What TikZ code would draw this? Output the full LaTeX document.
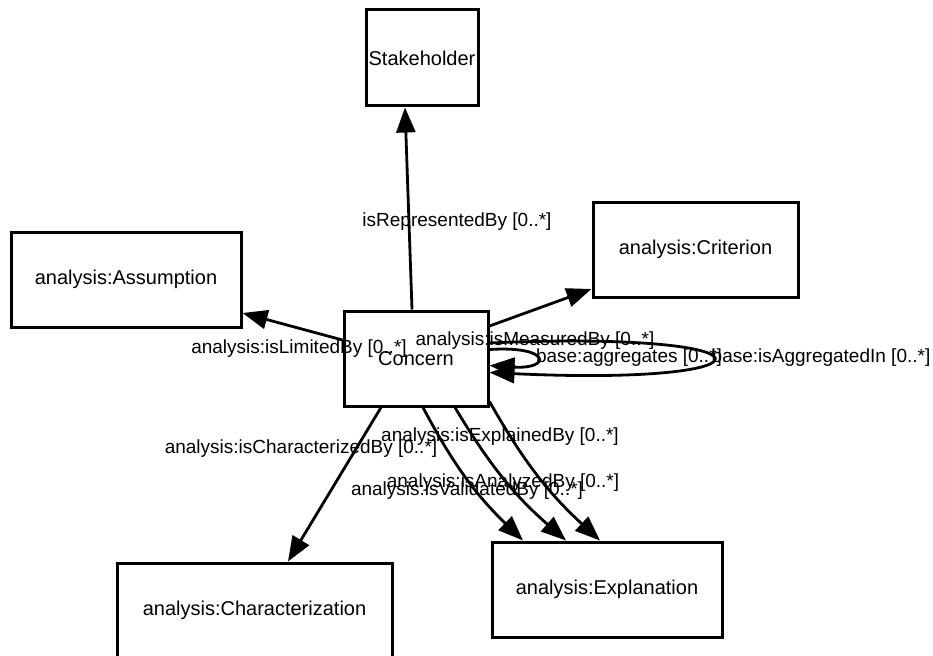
\documentclass[tikz,border=0pt]{standalone}
\usepackage{fontspec}
\setmainfont{Liberation Sans}
\usetikzlibrary{arrows.meta}
\begin{document}
\begin{tikzpicture}[x=1pt,y=-1pt,
  box/.style={draw, line width=3pt, inner sep=0pt, font=\fontsize{20}{24}\selectfont},
  rel/.style={line width=2.8pt, -{Triangle[length=25pt,width=19pt]}},
  lbl/.style={inner sep=0pt, font=\fontsize{19}{22}\selectfont}]
\useasboundingbox (0,0) rectangle (933,655);
\clip (0,0) rectangle (933,655);
% classes
\node[box, minimum width=112pt, minimum height=96pt] (stakeholder) at (422,58) {Stakeholder};
\node[box, minimum width=205pt, minimum height=95pt] (criterion) at (695.5,249.5) {analysis:Criterion};
\node[box, minimum width=230pt, minimum height=95pt] (assumption) at (126,279.5) {analysis:Assumption};
\node[box, minimum width=144pt, minimum height=95pt] (concern) at (416,358.5) {Concern};
\node[box, minimum width=275pt, minimum height=95pt] (characterization) at (254.5,610.5) {analysis:Characterization};
\node[box, minimum width=230pt, minimum height=95pt] (explanation) at (607,589.5) {analysis:Explanation};
% relations
\draw[rel] ([xshift=-4pt]concern.north) -- ([xshift=-17pt]stakeholder.south);
\draw[rel] ([yshift=18.5pt]concern.west) -- ([yshift=-33.5pt]assumption.east);
\draw[rel] ([yshift=32.5pt]concern.east) -- ([yshift=-39.5pt]criterion.west);
\draw[rel] ([xshift=-35pt]concern.south) -- ([xshift=33.5pt]characterization.north);
\draw[rel] ([xshift=7pt]concern.south) to[bend right=9] ([xshift=-84pt]explanation.north);
\draw[rel] ([xshift=39pt]concern.south) to[bend right=9] ([xshift=-41pt]explanation.north);
\draw[rel] ([yshift=6pt]concern.south east) to[bend right=9] ([xshift=-7pt]explanation.north);
\draw[rel] ([yshift=9pt]concern.east) .. controls +(62,-4) and +(62,4) .. ([yshift=-7pt]concern.east);
\draw[rel] ([yshift=15.5pt]concern.east) .. controls +(297,-13) and +(297,14) .. ([yshift=-14pt]concern.east);
% labels
\node[lbl] (l1) at (457,222) {isRepresentedBy [0..*]};
\node[lbl] (l2) at (299,349) {analysis:isLimitedBy [0..*]};
\node[lbl] (l3) at (535,341) {analysis:isMeasuredBy [0..*]};
\node[lbl] (l4) at (629,358) {base:aggregates [0..*]};
\node[lbl] (l5) at (821,358) {base:isAggregatedIn [0..*]};
\node[lbl] (l6) at (301,449) {analysis:isCharacterizedBy [0..*]};
\node[lbl] (l7) at (500,437) {analysis:isExplainedBy [0..*]};
\node[lbl] (l8) at (503,483) {analysis:isAnalyzedBy [0..*]};
\node[lbl] (l9) at (467,491) {analysis:isValidatedBy [0..*]};
\end{tikzpicture}
\end{document}
